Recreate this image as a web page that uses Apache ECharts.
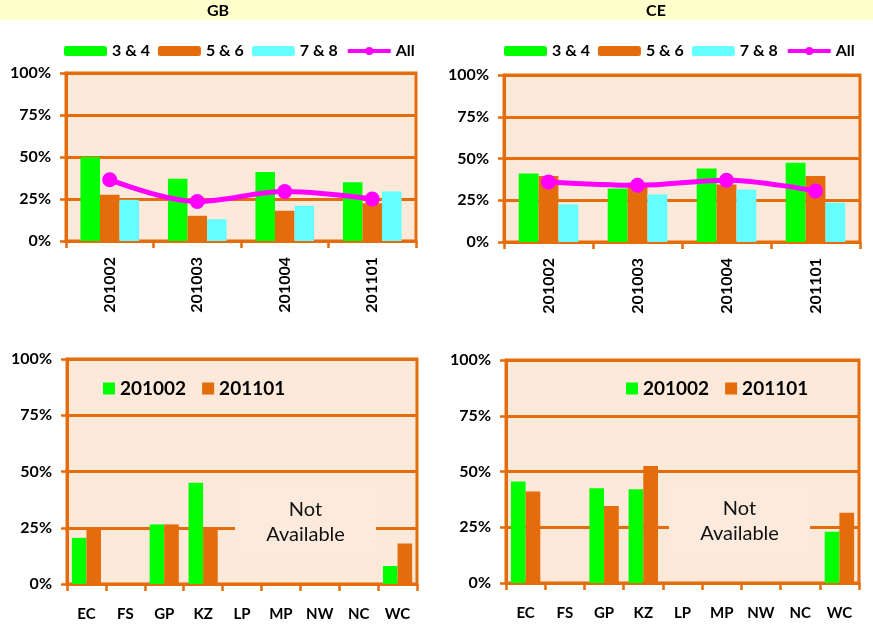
<!DOCTYPE html>
<html>
<head>
<meta charset="utf-8">
<script src="https://cdn.jsdelivr.net/npm/echarts@6/dist/echarts.min.js"></script>
<style>
html,body{margin:0;padding:0;background:#fff;}
#c{width:873px;height:628px;}
</style>
</head>
<body>
<div id="c"></div>
<script>
// ---- data ----
const periods = ['201002', '201003', '201004', '201101'];
const gb34 = [50, 37, 41, 35];
const gb56 = [27.5, 15, 18, 22.5];
const gb78 = [24.5, 13, 21, 29.5];
const gbAll = [36.5, 23.5, 29.5, 25];
const ce34 = [41, 32, 44, 47.5];
const ce56 = [39.5, 35.5, 34.5, 39.5];
const ce78 = [22.5, 28.5, 31.5, 23.5];
const ceAll = [36, 34, 37, 30.5];

const provinces = ['EC', 'FS', 'GP', 'KZ', 'LP', 'MP', 'NW', 'NC', 'WC'];
const gbProv201002 = [20.5, null, 26.5, 45, null, null, null, null, 8];
const gbProv201101 = [25, null, 26.5, 24, null, null, null, null, 18];
const ceProv201002 = [45.5, null, 42.5, 42, null, null, null, null, 23];
const ceProv201101 = [41, null, 34.5, 52.5, null, null, null, null, 31.5];

const yTicks = [0, 25, 50, 75, 100];
const panelTitles = ['GB', 'CE'];
const notAvailable = 'Not\nAvailable';

// ---- styles ----
const FONT = 'Lato, "Open Sans", sans-serif';
const ORANGE = '#E46C0A';
const GREEN = '#00FF00';
const CYAN = '#66FFFF';
const MAGENTA = '#FF00FF';
const PLOTBG = '#FDE9D9';

const chart = echarts.init(document.getElementById('c'), null, {renderer: 'canvas'});

const grids = [
  {left: 66, top: 73, width: 350, height: 168},
  {left: 504, top: 75, width: 356, height: 167},
  {left: 67, top: 359, width: 350, height: 225},
  {left: 506, top: 360, width: 353, height: 223}
].map(g => Object.assign({
  show: true, backgroundColor: PLOTBG, borderColor: ORANGE, borderWidth: 3, containLabel: false
}, g));

function yAxis(i) {
  return {
    type: 'value', gridIndex: i, min: yTicks[0], max: yTicks[yTicks.length - 1], interval: 25,
    axisLine: {show: true, lineStyle: {color: ORANGE, width: 3}},
    axisTick: {show: true, length: 6, lineStyle: {color: ORANGE, width: 2.5}},
    splitLine: {show: true, lineStyle: {color: ORANGE, width: 3}},
    axisLabel: {formatter: '{value}%', fontFamily: FONT, fontWeight: 'bold', fontSize: 16, color: '#000', margin: 15}
  };
}
function xAxis(i, data, rotate) {
  return {
    type: 'category', gridIndex: i, data: data,
    axisLine: {show: true, lineStyle: {color: ORANGE, width: 3}},
    axisTick: {show: true, length: 7, alignWithLabel: false, lineStyle: {color: ORANGE, width: 2.5}},
    splitLine: {show: false},
    axisLabel: rotate
      ? {rotate: 90, fontFamily: FONT, fontWeight: 'bold', fontSize: 16, color: '#000', margin: 16}
      : {fontFamily: FONT, fontWeight: 'bold', fontSize: 15, color: '#000', margin: 23}
  };
}

function topSeries(i, a, b, c, all) {
  const bar = (name, data, color) => ({
    type: 'bar', name: name, xAxisIndex: i, yAxisIndex: i, data: data,
    barGap: '0%', barCategoryGap: '33%', itemStyle: {color: color}, z: 3
  });
  return [
    bar('3 & 4', a, GREEN), bar('5 & 6', b, ORANGE), bar('7 & 8', c, CYAN),
    {type: 'line', name: 'All', xAxisIndex: i, yAxisIndex: i, data: all, smooth: 0.35,
     symbol: 'circle', symbolSize: 15, lineStyle: {color: MAGENTA, width: 5},
     itemStyle: {color: MAGENTA}, z: 5}
  ];
}
function provSeries(i, a, b) {
  const bar = (name, data, color) => ({
    type: 'bar', name: name, xAxisIndex: i, yAxisIndex: i, data: data,
    barGap: '0%', barCategoryGap: '25%', itemStyle: {color: color}, z: 3
  });
  return [bar('201002', a, GREEN), bar('201101', b, ORANGE)];
}

function topLegend(left) {
  return {
    left: left, top: 43, padding: 0, itemGap: 8, itemWidth: 43, itemHeight: 10,
    data: ['3 & 4', '5 & 6', '7 & 8', {name: 'All', lineStyle: {width: 4, color: MAGENTA}}],
    textStyle: {fontFamily: FONT, fontWeight: 'bold', fontSize: 16, color: '#000', lineHeight: 16}
  };
}
function bottomLegend(left) {
  return {
    left: left, top: 379, padding: 0, itemGap: 16, itemWidth: 12, itemHeight: 12,
    data: [{name: '201002', icon: 'rect'}, {name: '201101', icon: 'rect'}],
    textStyle: {fontFamily: FONT, fontWeight: 'bold', fontSize: 19, color: '#000', lineHeight: 18}
  };
}

function naBox(x, y) {
  return [
    {type: 'rect', x: x, y: y, shape: {x: 0, y: 0, width: 141, height: 71}, style: {fill: '#FCEADD'}, z: 4},
    {type: 'text', x: x + 70.5, y: y + 11, z: 5,
     style: {text: notAvailable, fontFamily: FONT, fontSize: 20, lineHeight: 25, fill: '#111', align: 'center', verticalAlign: 'top'}}
  ];
}

chart.setOption({
  animation: false,
  backgroundColor: '#ffffff',
  grid: grids,
  xAxis: [xAxis(0, periods, true), xAxis(1, periods, true), xAxis(2, provinces, false), xAxis(3, provinces, false)],
  yAxis: [yAxis(0), yAxis(1), yAxis(2), yAxis(3)],
  legend: [topLegend(64), topLegend(504), bottomLegend(103), bottomLegend(626)],
  series: [].concat(
    topSeries(0, gb34, gb56, gb78, gbAll),
    topSeries(1, ce34, ce56, ce78, ceAll),
    provSeries(2, gbProv201002, gbProv201101),
    provSeries(3, ceProv201002, ceProv201101)
  ),
  graphic: [
    {type: 'rect', x: 0, y: 0, shape: {x: 0, y: 0, width: 873, height: 20}, style: {fill: '#FFFFCC'}, z: 1},
    {type: 'text', x: 218, y: 11, z: 2,
     style: {text: panelTitles[0], fontFamily: FONT, fontWeight: 'bold', fontSize: 16, fill: '#000', align: 'center', verticalAlign: 'middle'}},
    {type: 'text', x: 656, y: 11, z: 2,
     style: {text: panelTitles[1], fontFamily: FONT, fontWeight: 'bold', fontSize: 16, fill: '#000', align: 'center', verticalAlign: 'middle'}}
  ].concat(naBox(235, 486), naBox(669, 485))
});
</script>
</body>
</html>
